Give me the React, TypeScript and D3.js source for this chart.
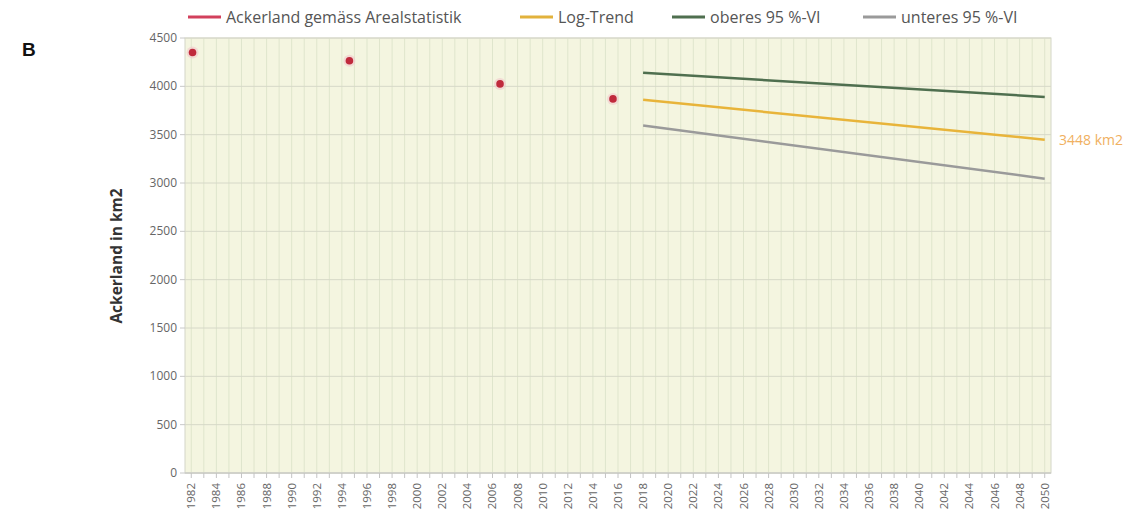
import React from "react";
import * as d3 from "d3";

// Arealstatistik survey points (mid-year of each survey period)
const surveyYears = [1982.1, 1994.6, 2006.6, 2015.6];
const surveyValues = [4350, 4265, 4025, 3870];

// projection 2018-2050
const trendYears = [2018, 2050];
const trendValues = [3860, 3448];
const upperValues = [4140, 3890];
const lowerValues = [3595, 3045];

const yTicks = [0, 500, 1000, 1500, 2000, 2500, 3000, 3500, 4000, 4500];
const years = d3.range(1982, 2051);

const legendItems = [
  { label: "Ackerland gemäss Arealstatistik", color: "#d2405c", x: 188 },
  { label: "Log-Trend", color: "#e2b23c", x: 520 },
  { label: "oberes 95 %-VI", color: "#4f6f4f", x: 672 },
  { label: "unteres 95 %-VI", color: "#9a9a9a", x: 863 },
];

const font = "'Open Sans', 'DejaVu Sans', sans-serif";

export default function App() {
  const width = 1147;
  const height = 524;
  const x = d3.scaleLinear().domain([1981.5, 2050.5]).range([185, 1051]);
  const y = d3.scaleLinear().domain([0, 4500]).range([473, 38]);
  const [x0, x1] = x.range();
  const [y0, y1] = y.range();

  const line = d3
    .line<number>()
    .x((_, i) => x(trendYears[i]))
    .y((d) => y(d));

  return (
    <svg
      width={width}
      height={height}
      style={{ position: "absolute", left: 0, top: 0, background: "#fff" }}
      fontFamily={font}
    >
      <text x={22} y={56} fontSize={19} fontWeight="bold" fill="#111" fontFamily="'Liberation Sans', Arial, sans-serif">
        B
      </text>

      {/* legend */}
      {legendItems.map((d) => (
        <g key={d.label}>
          <line x1={d.x} x2={d.x + 33} y1={17} y2={17} stroke={d.color} strokeWidth={3} />
          <text x={d.x + 38} y={23} fontSize={16} fill="#555">
            {d.label}
          </text>
        </g>
      ))}

      {/* plot background */}
      <rect x={x0} y={y1} width={x1 - x0} height={y0 - y1} fill="#f4f5e0" stroke="#d4d6c8" />

      {/* vertical grid */}
      {years.map((yr) => (
        <line key={yr} x1={x(yr)} x2={x(yr)} y1={y1} y2={y0} stroke="#dfe5cc" strokeWidth={1} />
      ))}
      {/* horizontal grid */}
      {yTicks.map((t) => (
        <g key={t}>
          <line x1={x0} x2={x1} y1={y(t)} y2={y(t)} stroke="#d6d8c8" strokeWidth={1} />
          <line x1={x0 - 5} x2={x0} y1={y(t)} y2={y(t)} stroke="#c8c8c8" />
          <text x={x0 - 8} y={y(t) + 4} fontSize={12} fill="#666" textAnchor="end">
            {t}
          </text>
        </g>
      ))}

      {/* x axis */}
      <line x1={x0} x2={x1} y1={y0} y2={y0} stroke="#c4c4c4" />
      {years.map((yr) => (
        <line key={"t" + yr} x1={x(yr)} x2={x(yr)} y1={y0} y2={y0 + 5} stroke="#c4c4c4" />
      ))}
      {years
        .filter((yr) => yr % 2 === 0)
        .map((yr) => (
          <text
            key={"l" + yr}
            transform={`translate(${x(yr) + 4},${y0 + 10}) rotate(-90)`}
            fontSize={11.5}
            fill="#666"
            textAnchor="end"
          >
            {yr}
          </text>
        ))}

      <text
        transform={`translate(122,256) rotate(-90)`}
        fontSize={15.5}
        fontWeight="bold"
        fill="#333"
        textAnchor="middle"
      >
        Ackerland in km2
      </text>

      {/* projection lines */}
      <path d={line(upperValues) ?? ""} fill="none" stroke="#4f6f4f" strokeWidth={2.5} />
      <path d={line(trendValues) ?? ""} fill="none" stroke="#e8b43a" strokeWidth={2.5} />
      <path d={line(lowerValues) ?? ""} fill="none" stroke="#9a9a9a" strokeWidth={2.5} />

      <text x={x1 + 8} y={y(trendValues[1]) + 5} fontSize={14} fill="#f0b060">
        {trendValues[1]} km2
      </text>

      {/* survey points */}
      {surveyYears.map((yr, i) => (
        <g key={"p" + yr}>
          <circle cx={x(yr)} cy={y(surveyValues[i])} r={6} fill="#f2c8cc" opacity={0.6} />
          <circle cx={x(yr)} cy={y(surveyValues[i])} r={3.8} fill="#c02a3c" />
        </g>
      ))}
    </svg>
  );
}
